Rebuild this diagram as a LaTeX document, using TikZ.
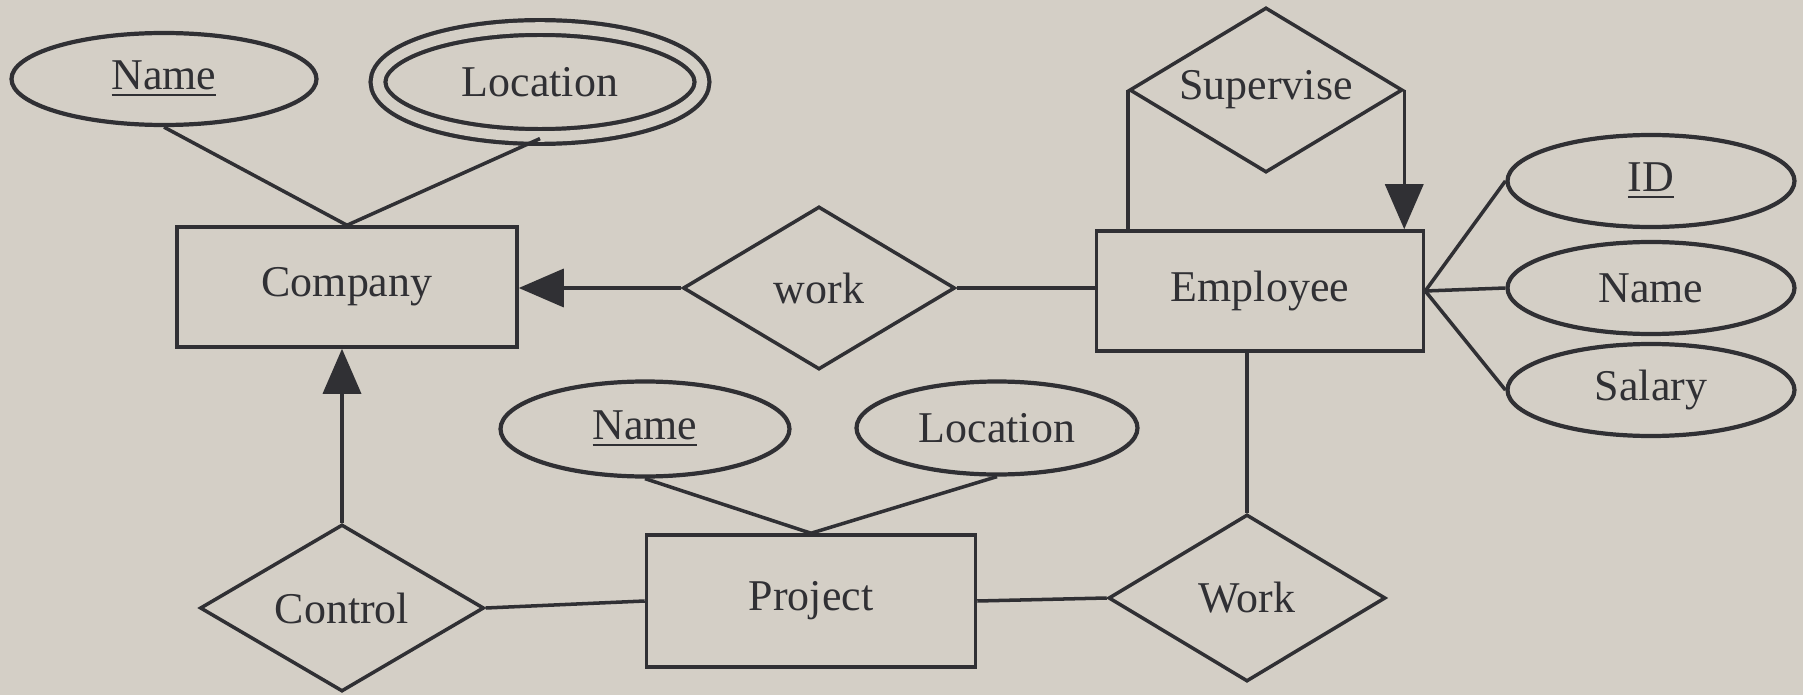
\documentclass[tikz,border=0pt]{standalone}
\usepackage{fontspec}
\setmainfont{Liberation Serif}
\usetikzlibrary{shapes.geometric,arrows.meta}
\definecolor{paper}{RGB}{212,207,198}
\definecolor{ink}{RGB}{48,48,52}
\begin{document}
\begin{tikzpicture}[
  ent/.style={rectangle, draw=ink, line width=1pt, minimum width=#1, minimum height=1.2cm},
  rel/.style={diamond, aspect=1.68, draw=ink, line width=1pt, minimum width=2.75cm, minimum height=1.65cm, inner sep=0pt},
  att/.style={ellipse, draw=ink, line width=1.2pt, minimum width=#1, minimum height=0.92cm, inner sep=0pt},
  e/.style={draw=ink, line width=1pt},
  font=\fontsize{12.5pt}{15pt}\selectfont, text=ink,
  >={Triangle[length=4.5mm,width=3.8mm]}
]
\useasboundingbox (0,0) rectangle (18.03,6.95);
\fill[paper] (0,0) rectangle (18.03,6.95);

\node[ent=3.40cm] (company) at (3.47,4.08) {Company};
\node[ent=3.27cm] (employee) at (12.60,4.04) {Employee};
\node[ent=3.29cm, minimum height=1.32cm] (project) at (8.11,0.94) {Project};

\node[att=3.05cm] (cname) at (1.64,6.16) {\underline{Name}};
\node[att=3.24cm, minimum height=1.09cm, double=paper, double distance=3pt] (cloc) at (5.40,6.13) {Location};
\node[att=2.87cm] (eid) at (16.51,5.14) {\underline{ID}};
\node[att=2.87cm] (ename) at (16.51,4.07) {Name};
\node[att=2.87cm] (esal) at (16.51,3.05) {Salary};
\node[att=2.89cm, minimum height=0.95cm] (pname) at (6.45,2.66) {\underline{Name}};
\node[att=2.81cm, minimum height=0.93cm] (ploc) at (9.97,2.67) {Location};

\node[rel, minimum width=2.72cm, minimum height=1.63cm] (work) at (8.19,4.07) {work};
\node[rel, minimum width=2.73cm] (supervise) at (12.66,6.05) {Supervise};
\node[rel, minimum width=2.84cm, minimum height=1.67cm] (control) at (3.42,0.87) {Control};
\node[rel, minimum width=2.77cm, minimum height=1.67cm] (pwork) at (12.47,0.97) {Work};

% attribute links
\draw[e] (cname.south) -- (company.north);
\draw[e] (cloc.south) -- (company.north);
\draw[e] (employee.east) -- (eid.west);
\draw[e] (employee.east) -- (ename.west);
\draw[e] (employee.east) -- (esal.west);
\draw[e] (pname.south) -- (project.north);
\draw[e] (ploc.south) -- (project.north);

% relationship links
\draw[e,->] (work.west) -- (work.west -| company.east);
\draw[e] (work.east) -- (work.east -| employee.west);
\draw[e] (supervise.west) -- (supervise.west |- employee.north);
\draw[e,->] (supervise.east) -- (supervise.east |- employee.north);
\draw[e,->] (control.north) -- (control.north |- company.south);
\draw[e] (control.east) -- (project.west);
\draw[e] (project.east) -- (pwork.west);
\draw[e] (pwork.north) -- (pwork.north |- employee.south);
\end{tikzpicture}
\end{document}
